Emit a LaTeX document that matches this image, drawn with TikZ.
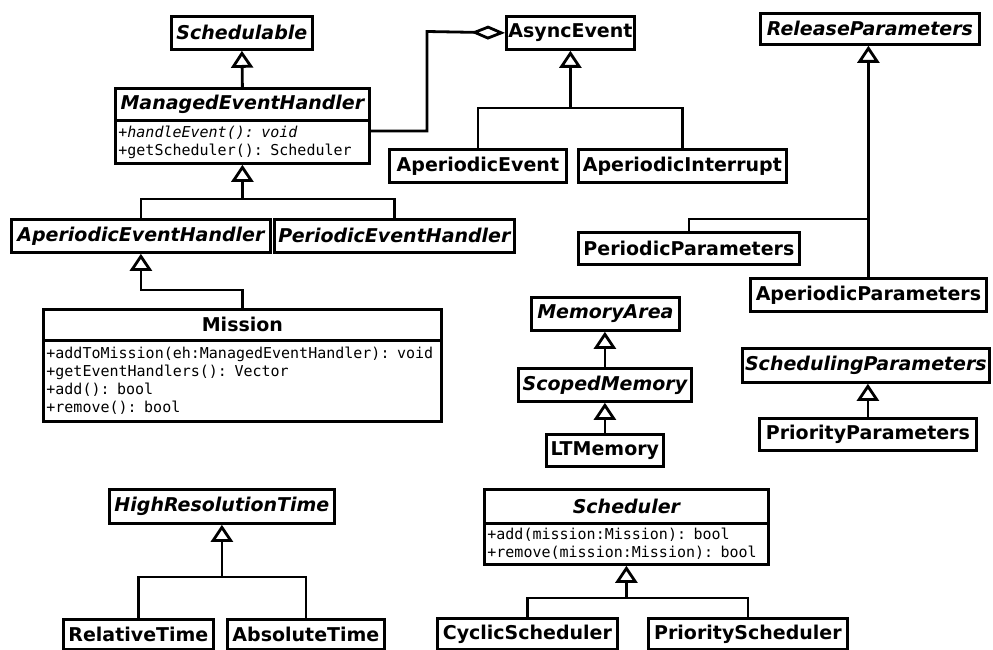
\documentclass[tikz,border=0pt]{standalone}
\usepackage{fontspec}
\usetikzlibrary{arrows.meta}
\setmainfont{DejaVu Sans}
\newfontfamily\umlmono{DejaVu Sans Mono}

\tikzset{
  x=1pt, y=-1pt,
  cls/.style={draw, line width=2.8pt, inner sep=0pt, anchor=north west,
    font=\fontsize{19}{22}\selectfont\bfseries},
  abstractcls/.style={cls, font=\fontsize{19}{22}\selectfont\bfseries\itshape},
  members/.style={draw, line width=2.8pt, inner xsep=3pt, inner ysep=0pt,
    anchor=north west, align=left, font=\umlmono\fontsize{15}{18}\selectfont},
  corners/.style n args={4}{at={(#1,#2)}, minimum width={#3-#1}, minimum height={#4-#2}},
  ln/.style={line width=2.8pt},
  gen/.style={ln, -{Triangle[open, length=17pt, width=22pt]}},
  agg/.style={ln, {Diamond[open, length=34pt, width=14pt]}-},
}

\begin{document}
\begin{tikzpicture}
\fill[white] (0,0) rectangle (993,650);
\useasboundingbox (0,0) rectangle (993,650);

% event handlers
\node[abstractcls, corners={170}{15}{311}{48}] (sch) {Schedulable};
\node[abstractcls, corners={114}{87}{368}{119}] (meh) {ManagedEventHandler};
\node[members, at={(114,119)}, minimum width=254, minimum height=43, text width=248pt] (mehm)
  {{\itshape +handleEvent(): void}\\+getScheduler(): Scheduler};
\node[abstractcls, corners={10}{218}{269}{251}] (aeh) {AperiodicEventHandler};
\node[abstractcls, corners={273}{218}{513}{251}] (peh) {PeriodicEventHandler};
\node[cls, corners={42}{308}{440}{339}] (mis) {Mission};
\node[members, at={(42,339)}, minimum width=398, minimum height=81, text width=392pt] (mism)
  {+addToMission(eh:ManagedEventHandler): void\\+getEventHandlers(): Vector\\+add(): bool\\+remove(): bool};

% events
\node[cls, corners={505}{15}{633}{48}] (ae) {AsyncEvent};
\node[cls, corners={388}{148}{565}{181}] (aev) {AperiodicEvent};
\node[cls, corners={577}{148}{785}{181}] (aint) {AperiodicInterrupt};

% parameters
\node[abstractcls, corners={759}{12}{978}{43}] (rp) {ReleaseParameters};
\node[cls, corners={577}{231}{798}{263}] (pp) {PeriodicParameters};
\node[cls, corners={749}{277}{985}{310}] (app) {AperiodicParameters};
\node[abstractcls, corners={741}{347}{988}{381}] (sp) {SchedulingParameters};
\node[cls, corners={758}{417}{975}{449}] (prp) {PriorityParameters};

% memory
\node[abstractcls, corners={530}{296}{678}{329}] (ma) {MemoryArea};
\node[abstractcls, corners={517}{367}{690}{400}] (sm) {ScopedMemory};
\node[cls, corners={545}{433}{662}{465}] (lt) {LTMemory};

% time
\node[abstractcls, corners={108}{488}{333}{522}] (hrt) {HighResolutionTime};
\node[cls, corners={62}{618}{212}{648}] (rt) {RelativeTime};
\node[cls, corners={226}{618}{383}{648}] (abst) {AbsoluteTime};

% schedulers
\node[abstractcls, corners={483}{488}{767}{522}] (sc) {Scheduler};
\node[members, at={(483,522)}, minimum width=284, minimum height=41, text width=278pt] (scm)
  {+add(mission:Mission): bool\\+remove(mission:Mission): bool};
\node[cls, corners={436}{617}{616}{648}] (cs) {CyclicScheduler};
\node[cls, corners={647}{617}{846}{648}] (ps) {PriorityScheduler};

% generalisations
\draw[gen] (meh.north) -- (sch.south);
\coordinate (j1) at (mehm.south |- 0,199);
\draw[gen] (j1) -- (mehm.south);
\draw[ln] (aeh.north) |- (j1);
\draw[ln] (peh.north) |- (j1);
\draw[gen] (mis.north) |- (aeh.south |- 0,290) -- (aeh.south);

\coordinate (j2) at (ae.south |- 0,108);
\draw[gen] (j2) -- (ae.south);
\draw[ln] (aev.north) |- (j2);
\draw[ln] (aint.north) |- (j2);

\draw[gen] (app.north) -- (app.north |- rp.south);
\draw[ln] (pp.north) |- (app.north |- 0,219);
\draw[gen] (prp.north) -- (prp.north |- sp.south);

\draw[gen] (sm.north) -- (sm.north |- ma.south);
\draw[gen] (lt.north) -- (lt.north |- sm.south);

\coordinate (j3) at (hrt.south |- 0,577);
\draw[gen] (j3) -- (hrt.south);
\draw[ln] (rt.north) |- (j3);
\draw[ln] (abst.north) |- (j3);

\coordinate (j4) at (scm.south |- 0,598);
\draw[gen] (j4) -- (scm.south);
\draw[ln] (cs.north) |- (j4);
\draw[ln] (ps.north) |- (j4);

% aggregation
\draw[agg] (ae.west) -- (427,31.5) |- (mehm.east |- 0,131);
\end{tikzpicture}
\end{document}
